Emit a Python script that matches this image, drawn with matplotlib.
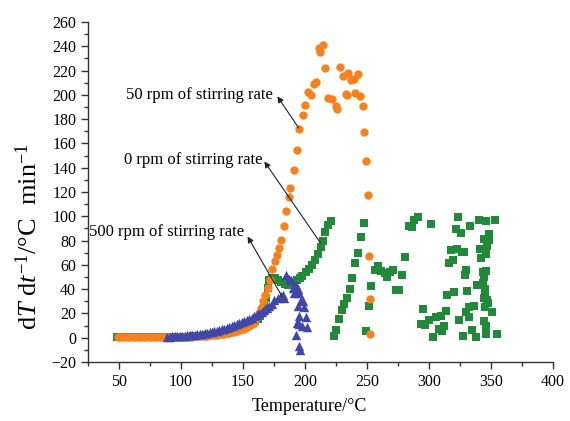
import matplotlib
matplotlib.use("Agg")
import matplotlib.pyplot as plt
from matplotlib.ticker import MultipleLocator

# 50 rpm of stirring rate (orange circles)
temp_50 = [49, 51, 53, 55, 57, 59, 61, 63, 65, 67, 69, 71, 73, 75, 77, 79, 81, 83, 85, 87, 89,
           91, 93, 95, 97, 99, 101, 103, 105, 107, 109, 111, 113, 115, 117, 119, 121, 123, 125,
           127, 129, 131, 133, 135, 137, 139, 141, 143, 145, 147, 149, 151, 153, 155, 157,
           158.5, 160, 161.5, 163.2, 164.6, 166.4, 168.0, 169.9, 171.8, 173.4, 175.6, 177.7,
           179.3, 181.0, 183.1, 184.7, 186.9, 188.0, 191.5, 193.3, 195.5, 198.2, 199.6, 202.3,
           205.0, 207.1, 209.0, 211.1, 212.2, 214.9, 216.5, 218.9, 221.9, 224.6, 226.2, 228.4,
           230.5, 232.7, 233.7, 234.8, 237.0, 239.2, 240.2, 242.9, 244.6, 246.7, 247.3, 249.0,
           250.7, 251.5, 252.7, 252.7]
rate_50 = [0.5, 0.5, 0.5, 0.5, 0.5, 0.5, 0.5, 0.5, 0.5, 0.5, 0.5, 0.5, 0.5, 0.5, 0.5, 0.5, 0.5,
           0.5, 0.5, 0.5, 0.5,
           0.6, 0.6, 0.6, 0.6, 0.7, 0.7, 0.8, 0.8, 0.9, 1.0, 1.1, 1.2, 1.3, 1.4, 1.6, 1.7, 1.9,
           2.1, 2.3, 2.5, 2.8, 3.1, 3.4, 3.8, 4.2, 4.6, 5.1, 5.6, 6.2, 6.9, 7.6, 8.5, 9.6, 11.0,
           12.5, 14.5, 17.0, 20.4, 24.5, 29.9, 35.4, 40.9, 47.8, 56.6, 62.9, 68.4,
           73.9, 80.7, 91.7, 104.0, 115.6, 123.3, 137.8, 154.9, 172.2, 183.4, 191.9, 202.0,
           200.2, 209.2, 210.3, 238.6, 235.0, 240.8, 222.2, 197.4, 196.9, 190.5, 188.4, 223.0,
           215.8, 201.0, 200.0, 218.0, 212.0, 213.1, 201.6, 216.9, 199.3, 191.1, 169.1, 145.8,
           117.8, 67.5, 31.9, 3.3]

# 0 rpm of stirring rate (green squares)
temp_0 = [48, 50, 52, 54, 56, 58, 60, 62, 64, 66, 68, 70, 72, 74, 76, 78, 80, 82, 84, 86, 88,
          90, 92, 94, 96, 98, 100, 102, 104, 106, 108, 110, 112, 114, 116, 118, 120, 122, 124,
          126, 128, 130, 132, 134, 136, 138, 140, 142, 144, 146, 148, 150, 152, 154, 156, 158,
          160, 162, 164, 165.5, 167, 168.5, 170, 171.3, 173.5, 176, 178.5, 181, 183.5, 186,
          188.5, 191, 193.5, 195.8, 197.7, 200.9, 203.6, 205.8, 208.2, 210.3, 212.5, 214.4,
          216.5, 218.9, 220.6,
          223.0, 225.2, 227.3, 229.5, 231.6, 233.8, 236.0, 238.1, 240.5, 242.7, 244.8, 247.3,
          249.4, 251.5, 253.5, 256.1, 258.8, 261.5, 264.2, 266.1, 268.8, 270.9, 273.2, 275.8,
          278.0, 280.7, 283.6, 286.1, 288.2, 291.0,
          301.7, 323.0, 321.4, 325.7, 333.0, 340.2, 345.9, 352.9, 348.3, 344.0, 348.5, 346.9,
          341.0, 346.1, 342.1, 317.6, 322.4, 326.5, 328.3, 319.0, 316.0, 330.0, 328.7, 343.5,
          346.1, 344.0, 338.8, 320.3, 330.5, 314.9, 345.3, 344.3, 347.7, 345.3, 350.5, 295.2,
          313.8, 332.1, 335.9, 329.5, 331.9, 324.3, 309.5, 305.5, 299.8, 293.3, 297.1, 311.9,
          307.9, 310.6, 334.6, 344.3, 345.6, 345.9, 355.0, 303.6, 327.3, 337.5, 343.6, 344.8,
          346.5]
rate_0 = [0.5, 0.5, 0.5, 0.5, 0.5, 0.5, 0.5, 0.5, 0.5, 0.5, 0.5, 0.5, 0.5, 0.5, 0.5, 0.5, 0.5,
          0.5, 0.5, 0.5, 0.5, 0.5, 0.5, 0.5, 0.5, 0.6, 0.6, 0.7, 0.8, 0.9, 1.0, 1.1, 1.2, 1.4,
          1.5, 1.7, 1.9, 2.1, 2.3, 2.6, 2.9, 3.2, 3.6, 4.0, 4.4, 4.9, 5.4, 6.0, 6.6, 7.3, 8.0,
          8.8, 9.6, 10.5, 11.4, 12.4, 13.6, 15.2, 17.5, 21.0, 26.0, 33.0, 41.0, 47.8, 49.5,
          48.8, 47.2, 45.5, 44.0, 43.4, 43.6, 45.2, 47.2, 49.2, 50.5, 53.8, 56.6, 60.1, 64.3,
          69.2, 74.4, 79.7, 87.1, 93.1, 96.1,
          1.1, 6.6, 15.7, 22.5, 28.0, 32.9, 40.1, 49.4, 61.8, 70.0, 83.2, 94.5,
          5.5, 26.4, 42.3, 56.0, 58.7, 54.6, 53.3, 50.0, 53.8, 55.4, 39.5, 39.5,
          51.3, 66.1, 91.7, 90.9, 96.6, 99.4,
          93.9, 99.1, 89.5, 86.2, 91.7, 96.6, 95.8, 97.2, 85.7, 81.3, 80.7, 75.8,
          73.1, 69.2, 65.7, 72.5, 73.3, 70.3, 70.6, 64.0, 61.8, 55.4, 51.9, 54.1,
          54.6, 49.7, 43.7, 37.9, 38.7, 35.2, 36.8, 33.0, 28.6, 25.3, 21.2, 23.6,
          22.2, 25.3, 25.8, 21.2, 17.3, 14.8, 18.1, 17.3, 14.8, 11.3, 10.5, 9.9,
          7.2, 5.8, 6.0, 14.0, 9.3, 3.3, 3.0, 0.2, 1.1, 0.2, 45.0, 40.5,
          31.0]

# 500 rpm of stirring rate (blue triangles)
temp_500 = [89, 91, 93, 95, 97, 99, 101, 103, 105, 107, 109, 111, 113, 115, 117, 119, 121, 123,
            125, 127, 129, 131, 133, 135, 137, 139, 141, 143, 145, 147, 149, 151, 153, 155,
            157, 159, 161, 163, 165, 167, 169, 171, 173,
            175.3, 178.0, 180.7, 182.6, 183.4, 184.7, 186.9, 188.7, 190.1, 191.5, 192.9, 192.9,
            193.6, 194.2, 194.5, 194.9, 195.5, 195.5, 195.5, 196.1, 196.9, 197.7, 198.2, 198.8,
            200.9, 201.4]
rate_500 = [1.0, 1.0, 1.1, 1.2, 1.3, 1.4, 1.5, 1.7, 1.9, 2.0, 2.2, 2.4, 2.7, 3.0, 3.3, 3.6, 4.0,
            4.4, 4.8, 5.3, 5.8, 6.3, 6.9, 7.5, 8.1, 8.8, 9.5, 10.2, 11.0, 11.8, 12.6, 13.5,
            14.4, 15.4, 16.5, 17.6, 18.8, 20.0, 21.3, 22.7, 24.2, 26.0, 28.0,
            31.3, 32.7, 34.0, 35.4, 32.7, 51.9, 48.4, 47.2, 41.0, 36.8, 43.7, 2.5,
            12.1, 25.8, 40.1, -6.6, 36.8, 17.5, 11.0, -9.9, 31.3, 9.3, 29.9, 25.0,
            17.0, 8.5]

# annotation labels: text anchor (right end), arrow head, arrow tail
labels = ["50 rpm of stirring rate", "0 rpm of stirring rate", "500 rpm of stirring rate"]
label_pos = [(173.7, 200.2), (165.8, 146.6), (151.0, 87.0)]
arrow_head = [(177.7, 198.8), (167.2, 145.2), (153.7, 83.4)]
arrow_tail = [(194.9, 172.7), (212.5, 78.0), (181.5, 34.0)]

orange = "#F5821F"
green = "#22893A"
blue = "#4047A8"


def setup_fonts():
    plt.rcParams['font.family'] = ['Liberation Serif', 'DejaVu Serif']
    plt.rcParams['mathtext.fontset'] = 'custom'
    plt.rcParams['mathtext.rm'] = 'Liberation Serif'
    plt.rcParams['mathtext.it'] = 'Liberation Serif:italic'


def plot_rates():
    fig = plt.figure(figsize=(5.7, 4.21), dpi=100)
    ax = fig.add_axes([0.1544, 0.1401, 0.8158, 0.8076])

    ax.scatter(temp_0, rate_0, marker='s', s=28, color=green, linewidths=0, zorder=3)
    ax.scatter(temp_50, rate_50, marker='o', s=36, color=orange, linewidths=0, zorder=4)
    ax.scatter(temp_500, rate_500, marker='^', s=46, color=blue, linewidths=0, zorder=5)

    for text, pos, head, tail in zip(labels, label_pos, arrow_head, arrow_tail):
        ax.text(pos[0], pos[1], text, ha='right', va='center', fontsize=12, zorder=6)
        ax.annotate('', xy=head, xytext=tail,
                    arrowprops=dict(arrowstyle='-|>', color='#222222', lw=0.8,
                                    mutation_scale=9, shrinkA=0, shrinkB=0), zorder=6)

    ax.set_xlim(25, 400)
    ax.set_ylim(-20, 260)
    ax.xaxis.set_major_locator(MultipleLocator(50))
    ax.xaxis.set_minor_locator(MultipleLocator(25))
    ax.yaxis.set_major_locator(MultipleLocator(20))
    ax.yaxis.set_minor_locator(MultipleLocator(10))
    ax.set_xticks([50, 100, 150, 200, 250, 300, 350, 400])

    for side in ['top', 'right']:
        ax.spines[side].set_visible(False)
    for side in ['left', 'bottom']:
        ax.spines[side].set_linewidth(1.0)
        ax.spines[side].set_color('#333333')
    ax.tick_params(which='major', direction='out', length=5, width=1.0, color='#333333',
                   labelsize=11.5)
    ax.tick_params(which='minor', direction='out', length=3, width=1.0, color='#333333')

    ax.set_xlabel("Temperature/°C", fontsize=13)
    ax.xaxis.set_label_coords(0.477, -0.105)
    ax.set_ylabel(r"d$T$ d$t^{-1}$/°C  min$^{-1}$", fontsize=19)
    ax.yaxis.set_label_coords(-0.10, 0.37)

    fig.savefig("out.png", dpi=100)


def main():
    setup_fonts()
    plot_rates()


if __name__ == "__main__":
    main()
